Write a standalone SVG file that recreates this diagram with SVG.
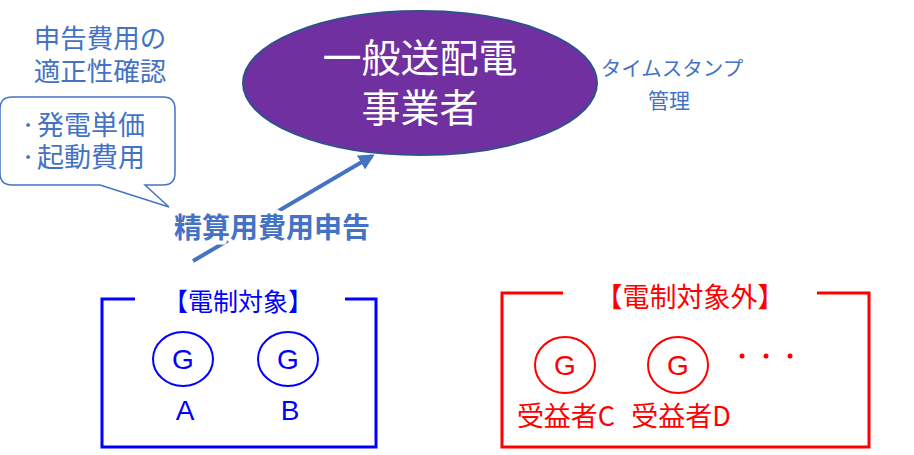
<svg xmlns="http://www.w3.org/2000/svg" width="914" height="455" viewBox="0 0 914 455">
<defs>
<style>
.jp{font-family:"Noto Sans CJK JP","Noto Sans",sans-serif;}
.lat{font-family:"Liberation Sans","Noto Sans CJK JP",sans-serif;}
.bl{fill:#4472C4;}
.blue{fill:#0000FF;}
.red{fill:#FF0000;}
</style>
<marker id="ah" viewBox="0 0 10 10" refX="8" refY="5" markerWidth="4" markerHeight="4" orient="auto" markerUnits="strokeWidth">
<path d="M0,0 L10,5 L0,10 z" fill="#4472C4"/>
</marker>
</defs>
<rect width="914" height="455" fill="#FFFFFF"/>

<g id="connectors">
<line x1="193" y1="261" x2="372" y2="156" stroke="#4472C4" stroke-width="4" marker-end="url(#ah)"/>
</g>

<g id="label-seisan">
<text x="272" y="238" text-anchor="middle" class="jp bl" font-size="28" font-weight="bold" stroke="#FFFFFF" stroke-width="8" paint-order="stroke" stroke-linejoin="round">精算用費用申告</text>
</g>

<g id="node-ippan">
<ellipse cx="420" cy="83" rx="177" ry="72" fill="#7030A0" stroke="#2F528F" stroke-width="2"/>
<text x="420" y="72" text-anchor="middle" class="jp" font-size="39" fill="#FFFFFF">一般送配電</text>
<text x="420" y="122" text-anchor="middle" class="jp" font-size="39" fill="#FFFFFF">事業者</text>
</g>

<g id="label-timestamp">
<text x="672" y="76" text-anchor="middle" class="jp bl" font-size="20.5">タイムスタンプ</text>
<text x="669" y="108" text-anchor="middle" class="jp bl" font-size="21">管理</text>
</g>

<g id="label-check">
<text x="100" y="48" text-anchor="middle" class="jp bl" font-size="26.5">申告費用の</text>
<text x="100" y="81" text-anchor="middle" class="jp bl" font-size="26.5">適正性確認</text>
</g>

<g id="callout">
<path d="M12,97 H163 Q175,97 175,109 V173 Q175,185 163,185 H145 L169,207 L100,185 H12 Q0,185 0,173 V109 Q0,97 12,97 Z" fill="#FFFFFF" stroke="#4472C4" stroke-width="1.5"/>
<text x="19" y="131.5" class="jp bl" font-size="18">・</text>
<text x="37" y="135" class="jp bl" font-size="27">発電単価</text>
<text x="19" y="163.5" class="jp bl" font-size="18">・</text>
<text x="37" y="167" class="jp bl" font-size="27">起動費用</text>
</g>

<g id="group-target">
<path d="M135,299 H102 V447 H376 V299 H345" fill="none" stroke="#0000FF" stroke-width="3"/>
<text x="238" y="311" text-anchor="middle" class="jp blue" font-size="25">【電制対象】</text>
</g>

<g id="gen-A">
<ellipse cx="183" cy="359" rx="30" ry="27" fill="none" stroke="#0000FF" stroke-width="2"/>
<text x="183" y="369" text-anchor="middle" class="lat blue" font-size="28">G</text>
<text x="185" y="420" text-anchor="middle" class="lat blue" font-size="28">A</text>
</g>

<g id="gen-B">
<ellipse cx="288" cy="359" rx="30" ry="27" fill="none" stroke="#0000FF" stroke-width="2"/>
<text x="288" y="369" text-anchor="middle" class="lat blue" font-size="28">G</text>
<text x="290" y="420" text-anchor="middle" class="lat blue" font-size="28">B</text>
</g>

<g id="group-nontarget">
<path d="M563,293 H502 V447 H869 V293 H817" fill="none" stroke="#FF0000" stroke-width="3"/>
<text x="690" y="307" text-anchor="middle" class="jp red" font-size="27">【電制対象外】</text>
</g>

<g id="gen-C">
<ellipse cx="565" cy="365" rx="30" ry="28" fill="none" stroke="#FF0000" stroke-width="2"/>
<text x="565" y="375" text-anchor="middle" class="lat red" font-size="28">G</text>
<text x="566" y="426" text-anchor="middle" class="jp red" font-size="27">受益者C</text>
</g>

<g id="gen-D">
<ellipse cx="678" cy="365" rx="30" ry="28" fill="none" stroke="#FF0000" stroke-width="2"/>
<text x="678" y="375" text-anchor="middle" class="lat red" font-size="28">G</text>
<text x="681" y="426" text-anchor="middle" class="jp red" font-size="27">受益者D</text>
</g>

<g id="dots">
<circle cx="742" cy="356" r="2.5" fill="#FF0000"/>
<circle cx="766" cy="356" r="2.5" fill="#FF0000"/>
<circle cx="790" cy="356" r="2.5" fill="#FF0000"/>
</g>
</svg>
